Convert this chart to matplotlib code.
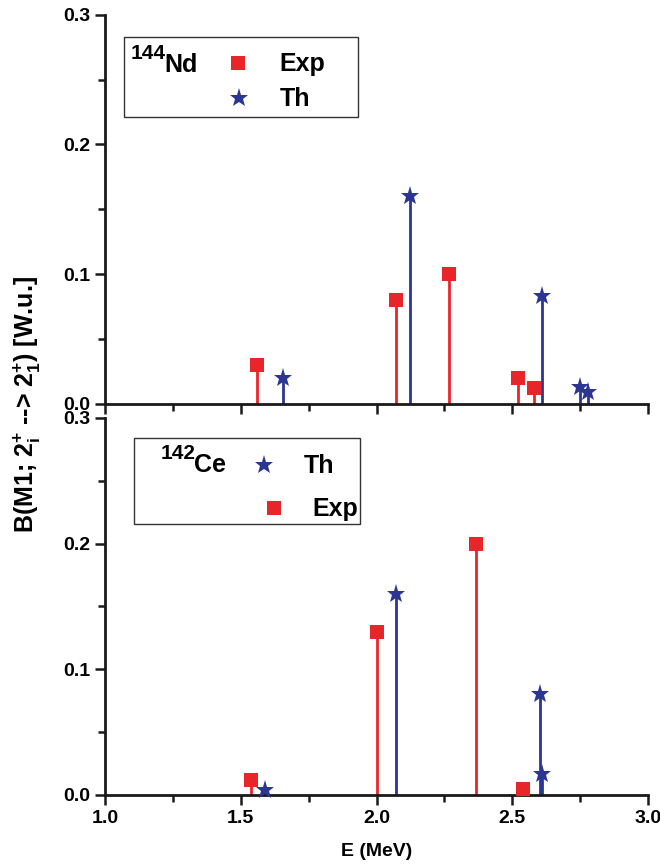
import matplotlib
matplotlib.use("Agg")
import matplotlib.pyplot as plt
from matplotlib.patches import Rectangle
from matplotlib.ticker import MultipleLocator

plt.rcParams['font.family'] = ['Liberation Sans', 'DejaVu Sans']
plt.rcParams['font.weight'] = 'bold'
plt.rcParams['mathtext.fontset'] = 'custom'
plt.rcParams['mathtext.rm'] = 'Liberation Sans:bold'
plt.rcParams['mathtext.it'] = 'Liberation Sans:bold'
plt.rcParams['mathtext.bf'] = 'Liberation Sans:bold'
plt.rcParams['mathtext.default'] = 'rm'

RED = '#e8262a'
BLUE = '#2b3592'

# 144Nd
nd_exp_e = [1.56, 2.07, 2.265, 2.52, 2.58]
nd_exp_b = [0.030, 0.080, 0.100, 0.020, 0.012]
nd_th_e = [1.655, 2.125, 2.61, 2.75, 2.78]
nd_th_b = [0.020, 0.160, 0.083, 0.013, 0.009]

# 142Ce
ce_exp_e = [1.537, 2.003, 2.365, 2.54]
ce_exp_b = [0.012, 0.130, 0.200, 0.005]
ce_th_e = [1.59, 2.07, 2.603, 2.608]
ce_th_b = [0.004, 0.160, 0.080, 0.017]

xticks = [1.0, 1.5, 2.0, 2.5, 3.0]
yticks = [0.0, 0.1, 0.2, 0.3]

fig = plt.figure(figsize=(6.6, 8.65), dpi=100)
ax1 = fig.add_axes([0.159, 0.533, 0.823, 0.450])
ax2 = fig.add_axes([0.159, 0.081, 0.823, 0.436])


def style(ax, show_xlabels):
    ax.set_xlim(1.0, 3.0)
    ax.set_ylim(0.0, 0.3)
    for s in ['top', 'right']:
        ax.spines[s].set_visible(False)
    for s in ['left', 'bottom']:
        ax.spines[s].set_linewidth(2.0)
        ax.spines[s].set_color('#1a1a1a')
    ax.set_xticks(xticks)
    ax.set_yticks(yticks)
    ax.xaxis.set_minor_locator(MultipleLocator(0.25))
    ax.yaxis.set_minor_locator(MultipleLocator(0.05))
    ax.tick_params(which='both', direction='out', width=1.8, color='#1a1a1a')
    ax.tick_params(which='major', length=7, labelsize=14)
    ax.tick_params(which='minor', length=5)
    ax.set_yticklabels(['%.1f' % v for v in yticks], fontweight='bold')
    if show_xlabels:
        ax.set_xticklabels(['%.1f' % v for v in xticks], fontweight='bold')
    else:
        ax.set_xticklabels([])


def stems(ax, e, b, color, marker, ms):
    ax.vlines(e, 0, b, colors=color, linewidth=2.0, zorder=2)
    ax.plot(e, b, linestyle='none', marker=marker, color=color, markersize=ms,
            markeredgewidth=0, zorder=3, clip_on=False)


def nucleus(ax, x, y, mass, sym):
    # big superscript mass number in front of the element symbol
    t = ax.transAxes
    ax.text(x, y, sym, transform=t, fontsize=18, va='baseline', ha='left')
    ax.annotate(mass, xy=(x, y), xycoords=t, xytext=(1, 9), textcoords='offset points',
                fontsize=15, va='baseline', ha='right', fontweight='bold')


style(ax1, False)
style(ax2, True)

stems(ax1, nd_exp_e, nd_exp_b, RED, 's', 10)
stems(ax1, nd_th_e, nd_th_b, BLUE, '*', 14)
stems(ax2, ce_exp_e, ce_exp_b, RED, 's', 10)
stems(ax2, ce_th_e, ce_th_b, BLUE, '*', 14)

# legend box, top panel
t = ax1.transAxes
ax1.add_patch(Rectangle((0.035, 0.738), 0.431, 0.206, transform=t, fill=False,
                        edgecolor='#333333', linewidth=1.0))
nucleus(ax1, 0.110, 0.853, '144', 'Nd')
ax1.plot([0.245], [0.877], 's', color=RED, markersize=10, markeredgewidth=0, transform=t)
ax1.text(0.322, 0.874, 'Exp', transform=t, fontsize=18, va='center', ha='left')
ax1.plot([0.247], [0.787], '*', color=BLUE, markersize=14, markeredgewidth=0, transform=t)
ax1.text(0.322, 0.784, 'Th', transform=t, fontsize=18, va='center', ha='left')

# legend box, bottom panel
t = ax2.transAxes
ax2.add_patch(Rectangle((0.053, 0.719), 0.417, 0.228, transform=t, fill=False,
                        edgecolor='#333333', linewidth=1.0))
nucleus(ax2, 0.164, 0.857, '142', 'Ce')
ax2.plot([0.293], [0.875], '*', color=BLUE, markersize=14, markeredgewidth=0, transform=t)
ax2.text(0.366, 0.872, 'Th', transform=t, fontsize=18, va='center', ha='left')
ax2.plot([0.311], [0.761], 's', color=RED, markersize=10, markeredgewidth=0, transform=t)
ax2.text(0.381, 0.758, 'Exp', transform=t, fontsize=18, va='center', ha='left')

ax2.set_xlabel('E (MeV)', fontsize=14, fontweight='bold', labelpad=12)
fig.text(0.042, 0.532, r'B(M1; 2$^{+}_{i}$ --> 2$^{+}_{1}$) [W.u.]', rotation=90,
         fontsize=18, fontweight='bold', ha='center', va='center')

fig.savefig('out.png', dpi=100)
